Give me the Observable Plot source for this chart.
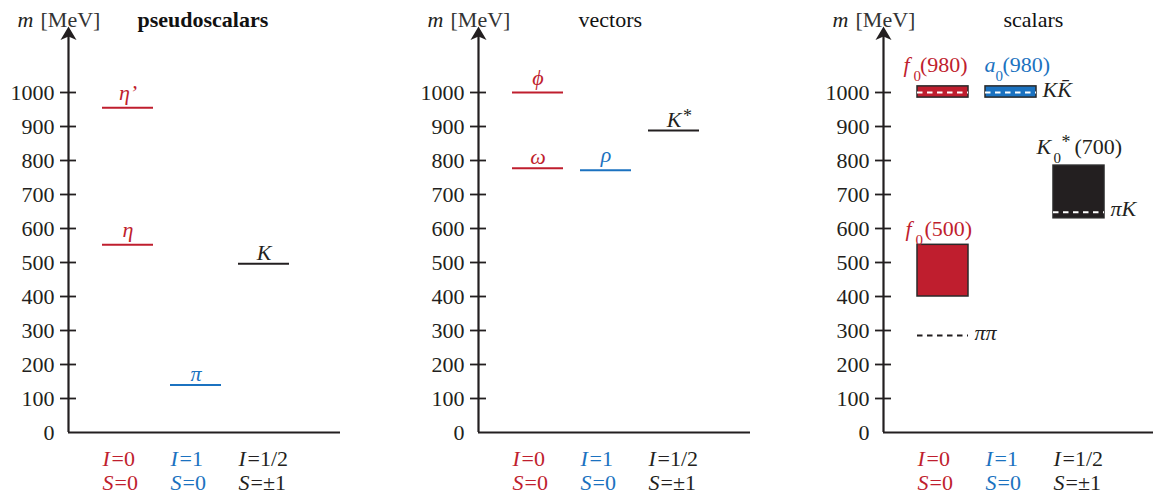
<!DOCTYPE html>
<html><head><meta charset="utf-8">
<script src="https://cdn.jsdelivr.net/npm/d3@7"></script>
<script src="https://cdn.jsdelivr.net/npm/@observablehq/plot@0.6"></script>
<style>
html,body{margin:0;padding:0;background:#fff;}
#chart{position:relative;width:1153px;height:495px;overflow:hidden;background:#fff;}
.panel{position:absolute;top:0;height:495px;overflow:visible;}
#chart svg, #chart svg text{font-family:'Liberation Serif','DejaVu Serif',serif !important;}
</style></head><body><div id="chart"></div>
<script>
// ---------- data ----------
const massTicks = [0, 100, 200, 300, 400, 500, 600, 700, 800, 900, 1000];
const isospinLetter = "I";
const strangenessLetter = "S";
const isospinLabels = ["0", "1", "1/2"];
const strangenessLabels = ["0", "0", "±1"];
const panelTitles = ["pseudoscalars", "vectors", "scalars"];
const axisTitleLetter = "m";
const axisTitleUnit = "[MeV]";

// pseudoscalars
const psName = ["η’", "η", "π", "K"];
const psSup = ["", "", "", ""];
const psMass = [955, 552, 140, 496];
const psGroup = [0, 0, 1, 2];

// vectors
const vName = ["ϕ", "ω", "ρ", "K"];
const vSup = ["", "", "", "*"];
const vMass = [1000, 777, 771, 888];
const vGroup = [0, 0, 1, 2];

// scalars (mass bands)
const sLetter = ["f", "a", "f", "K"];
const sSub = ["0", "0", "0", "0"];
const sSup = ["", "", "", "*"];
const sRest = ["(980)", "(980)", "(500)", "(700)"];
const sLow = [985, 985, 400, 630];
const sHigh = [1018, 1018, 552, 785];
const sGroup = [0, 1, 0, 2];

// two-meson thresholds
const thName = ["", "KK̄", "ππ", "πK"];
const thMass = [1000, 1000, 285, 648];
const thGroup = [0, 1, 0, 2];
const thInside = [true, true, false, true];

// ---------- styles ----------
const INK = "#231f20", RED = "#bf1e2e", BLUE = "#1b72c0";
const groupColors = [RED, BLUE, INK];
const FONT = "'Liberation Serif', 'DejaVu Serif', serif";
const AXIS_TOP = 1194;

const stealth = {draw(ctx) {
  ctx.moveTo(0, 0); ctx.lineTo(8, 13.5); ctx.lineTo(0, 10); ctx.lineTo(-8, 13.5); ctx.closePath();
}};
const T = (data, o) => Plot.text(data, {textAnchor: "start", lineAnchor: "bottom", fontFamily: FONT, ...o});
const bx1 = g => g + 0.5, bx2 = g => g + 1.25, bxc = g => g + 0.875;

function frameMarks(title, titleDx, titleWeight) {
  return [
    Plot.ruleY([0], {x1: 0, x2: 4, stroke: INK, strokeWidth: 2.2}),
    Plot.ruleX([0], {y1: 0, y2: 1170, stroke: INK, strokeWidth: 2.2}),
    Plot.dot([AXIS_TOP], {x: 0, y: d => d, symbol: stealth, fill: INK, stroke: "none"}),
    Plot.axisY(massTicks.filter(d => d > 0), {tickSize: 16, dx: 8, fill: "none", stroke: INK, strokeWidth: 1.8, label: null}),
    Plot.axisY(massTicks, {tickSize: 0, tickPadding: 14, tickFormat: d => String(d), label: null, fill: INK, fontFamily: FONT}),
    T([0], {x: 0, frameAnchor: "top", text: () => axisTitleLetter, fontStyle: "italic", dx: -51, dy: 2, fill: INK}),
    T([0], {x: 0, frameAnchor: "top", text: () => axisTitleUnit, dx: -28, dy: 2, fill: "#333"}),
    T([0], {x: 0, frameAnchor: "top", text: () => title, dx: titleDx, dy: 2, fill: "#111", fontWeight: titleWeight})
  ];
}

function categoryLabels() {
  const g = [0, 1, 2];
  const col = d => groupColors[d];
  return [
    T(g, {x: bx1, frameAnchor: "bottom", text: () => isospinLetter, fontStyle: "italic", fill: col, dy: 33}),
    T(g, {x: bx1, frameAnchor: "bottom", text: d => "=" + isospinLabels[d], fill: col, dx: 9, dy: 33}),
    T(g, {x: bx1, frameAnchor: "bottom", text: () => strangenessLetter, fontStyle: "italic", fill: col, dy: 57}),
    T(g, {x: bx1, frameAnchor: "bottom", text: d => "=" + strangenessLabels[d], fill: col, dx: 12, dy: 57})
  ];
}

function levelMarks(names, sups, masses, groups) {
  const idx = d3.range(names.length);
  const desc = i => /[ηρϕ]/.test(names[i]);
  const col = i => groupColors[groups[i]];
  const base = {x: i => bxc(groups[i]), y: i => masses[i], text: i => names[i], fill: col, fontStyle: "italic", textAnchor: "middle"};
  return [
    Plot.ruleY(idx, {y: i => masses[i], x1: i => bx1(groups[i]), x2: i => bx2(groups[i]), stroke: col, strokeWidth: 2}),
    T(idx.filter(desc), {...base, dy: -8}),
    T(idx.filter(i => !desc(i)), {...base, dy: -4}),
    T(idx.filter(i => sups[i]), {x: i => bxc(groups[i]), y: i => masses[i], text: i => sups[i], fill: col, fontSize: 18, dx: 9, dy: -9})
  ];
}

// label layout for scalar bands: px offsets from the band's top-left corner
const bandLabelLayout = [
  {letter: -14, dy: -14, sub: -4, sup: 0, rest: 2.5},
  {letter: -1, dy: -14, sub: 10, sup: 0, rest: 17},
  {letter: -12, dy: -9, sub: -2, sup: 0, rest: 7},
  {letter: -17, dy: -12, sub: 0, sup: 8, rest: 21}
];

function scalarMarks() {
  const idx = d3.range(sLetter.length);
  const th = d3.range(thName.length);
  const marks = [
    Plot.rect(idx, {x1: i => bx1(sGroup[i]), x2: i => bx2(sGroup[i]), y1: i => sLow[i], y2: i => sHigh[i],
      fill: i => groupColors[sGroup[i]], stroke: "#2a2a2a", strokeWidth: 1.5}),
    Plot.ruleY(th, {y: i => thMass[i], x1: i => bx1(thGroup[i]), x2: i => bx2(thGroup[i]),
      stroke: i => thInside[i] ? "#ffffff" : INK, strokeDasharray: "5.5,4.5", strokeWidth: 2}),
    T(th.filter(i => thName[i]), {x: i => bx2(thGroup[i]), y: i => thMass[i], text: i => thName[i],
      fontStyle: "italic", fill: INK, dx: 6, dy: 4})
  ];
  for (const i of idx) {
    const L = bandLabelLayout[i];
    const col = groupColors[sGroup[i]];
    const at = {x: () => bx1(sGroup[i]), y: () => sHigh[i], fill: col};
    marks.push(T([i], {...at, text: () => sLetter[i], fontStyle: "italic", dx: L.letter, dy: L.dy}));
    marks.push(T([i], {...at, text: () => sSub[i], fontSize: 15, dx: L.sub, dy: L.dy + 9}));
    if (sSup[i]) marks.push(T([i], {...at, text: () => sSup[i], fontSize: 18, dx: L.sup, dy: L.dy - 6}));
    marks.push(T([i], {...at, text: () => sRest[i], dx: L.rest, dy: L.dy}));
  }
  return marks;
}

function panel(left, width, marks) {
  const svg = Plot.plot({
    width, height: 495, marginTop: 24, marginBottom: 63, marginLeft: 68, marginRight: 0,
    x: {domain: [0, 4], range: [68, 340], axis: null},
    y: {domain: [0, 1200]},
    color: {type: "identity"},
    style: {fontFamily: FONT, fontSize: "22px", color: INK, background: "transparent", overflow: "visible"},
    marks
  });
  const div = document.createElement("div");
  div.className = "panel";
  div.style.left = left + "px";
  div.style.width = width + "px";
  div.appendChild(svg);
  document.getElementById("chart").appendChild(div);
}

panel(0, 410, [...frameMarks(panelTitles[0], 69, "bold"), ...levelMarks(psName, psSup, psMass, psGroup), ...categoryLabels()]);
panel(410, 405, [...frameMarks(panelTitles[1], 100, "normal"), ...levelMarks(vName, vSup, vMass, vGroup), ...categoryLabels()]);
panel(815, 338, [...frameMarks(panelTitles[2], 120, "normal"), ...scalarMarks(), ...categoryLabels()]);
</script></body></html>
